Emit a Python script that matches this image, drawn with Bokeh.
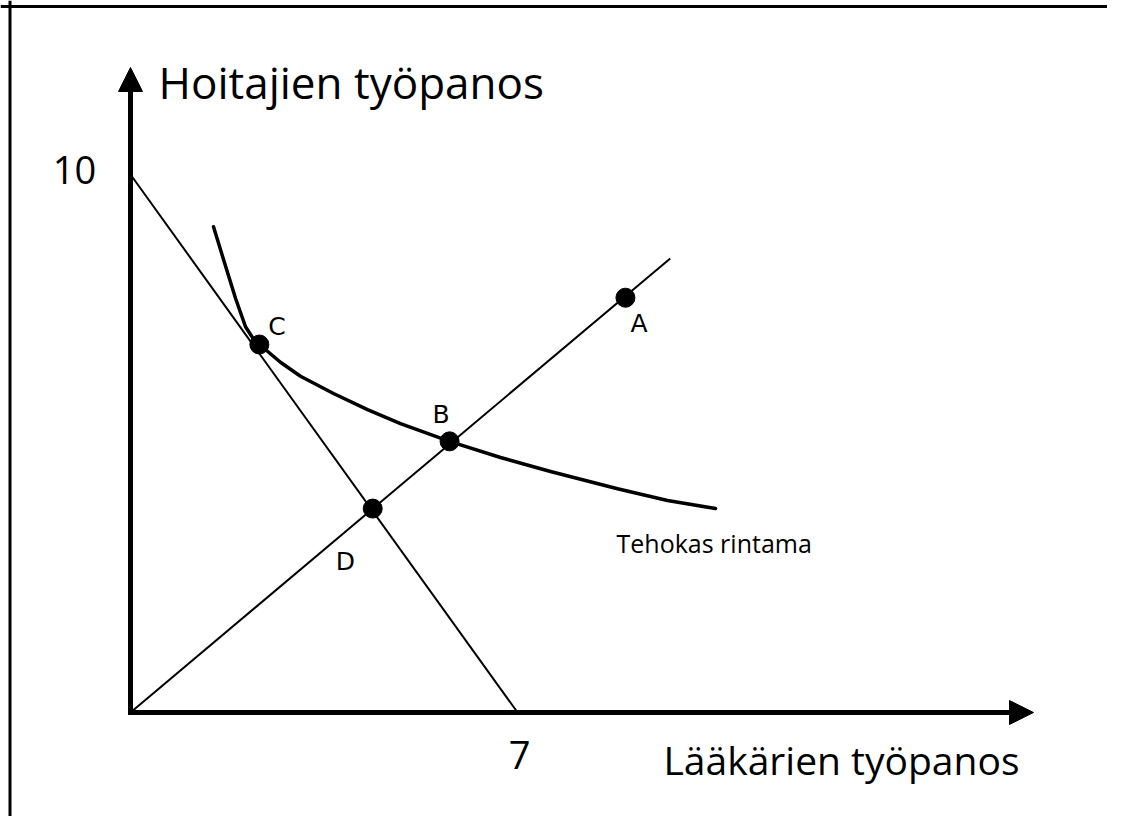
from bokeh.plotting import figure
from bokeh.models import Range1d, Arrow, NormalHead, Label, Span, ColumnDataSource
from bokeh.core.properties import value
from bokeh.embed import file_html
from bokeh.resources import INLINE

# ---------------- data ----------------
# efficient frontier ("Tehokas rintama")
frontier_x = [1.501, 1.700, 1.899, 2.080, 2.206, 2.333, 2.712, 3.074, 3.671, 4.286,
              4.882, 5.769, 6.691, 7.595, 8.807, 9.711, 10.579]
frontier_y = [9.03, 8.36, 7.70, 7.17, 6.97, 6.84, 6.51, 6.25, 5.93, 5.63,
              5.37, 5.04, 4.74, 4.48, 4.16, 3.94, 3.79]

# budget line from (0, 10) to (7, 0)
budget_x = [0, 7]
budget_y = [10, 0]

# ray from origin
ray_x = [0, 9.76]
ray_y = [0, 8.44]

point_names = ["A", "B", "C", "D"]
point_x = [8.95, 5.77, 2.33, 4.38]
point_y = [7.71, 5.04, 6.84, 3.79]

tick_labels = ["10", "7"]
x_title = "Lääkärien työpanos"
y_title = "Hoitajien työpanos"
curve_title = "Tehokas rintama"

# ---------------- layout helpers (picture pixels -> data) ----------------
OX, OY = 130.0, 712.0   # origin in picture pixels
SX, SY = 55.3, 53.8     # pixels per unit
W, H = 1107, 816
def dx(px):
    return (px - OX) / SX
def dy(py):
    return (OY - py) / SY

p = figure(width=W, height=H, output_backend="svg", toolbar_location=None,
           x_range=Range1d(dx(0), dx(W)), y_range=Range1d(dy(H), dy(0)),
           min_border=0)
p.axis.visible = False
p.grid.visible = False
p.outline_line_color = None
p.background_fill_color = "white"
p.border_fill_color = "white"

# frame around picture (left and top edges)
p.add_layout(Span(location=dx(9.5), dimension="height", line_color="black", line_width=3))
p.add_layout(Span(location=dy(6), dimension="width", line_color="black", line_width=3))

# thin lines
p.line(budget_x, budget_y, line_color="black", line_width=2)
p.line(ray_x, ray_y, line_color="black", line_width=2)
# frontier
p.line(frontier_x, frontier_y, line_color="black", line_width=3.5, line_join="round",
       line_cap="round")

# axes arrows
p.add_layout(Arrow(end=NormalHead(size=24, fill_color="black", line_color="black"),
                   x_start=-2.5 / SX, y_start=0, x_end=dx(1033), y_end=0,
                   line_color="black", line_width=5))
p.add_layout(Arrow(end=NormalHead(size=24, fill_color="black", line_color="black"),
                   x_start=0, y_start=-2.5 / SY, x_end=0, y_end=dy(67),
                   line_color="black", line_width=5))

# points
src = ColumnDataSource(dict(x=point_x, y=point_y, name=point_names,
                            xo=[5, -17, 9, -37], yo=[26, -27, -18, 53]))
p.scatter("x", "y", source=src, size=19, color="black")
p.text("x", "y", text="name", source=src, x_offset="xo", y_offset="yo",
       text_font=value("DejaVu Sans"), text_font_size=value("25px"),
       text_align="left", text_baseline="alphabetic", text_color="black")

# tick labels
p.add_layout(Label(x=0, y=10, text=tick_labels[0], x_offset=-56, y_offset=5,
                   text_font="Open Sans", text_font_size="38px", text_align="center",
                   text_baseline="alphabetic", text_color="black"))
p.add_layout(Label(x=7, y=0, text=tick_labels[1], x_offset=2, y_offset=-42,
                   text_font="Open Sans", text_font_size="38px", text_align="center",
                   text_baseline="alphabetic", text_color="black"))

# titles
p.add_layout(Label(x=dx(158), y=dy(81), text=y_title, text_font="Open Sans",
                   text_font_size="44px", text_align="left", text_baseline="alphabetic",
                   text_color="black"))
p.add_layout(Label(x=dx(663), y=dy(759), text=x_title, text_font="Open Sans",
                   text_font_size="39px", text_align="left", text_baseline="alphabetic",
                   text_color="black"))
p.add_layout(Label(x=dx(616), y=dy(542), text=curve_title, text_font="Open Sans",
                   text_font_size="25px", text_align="left", text_baseline="alphabetic",
                   text_color="black"))

open("out.html", "w").write(file_html(p, INLINE))
